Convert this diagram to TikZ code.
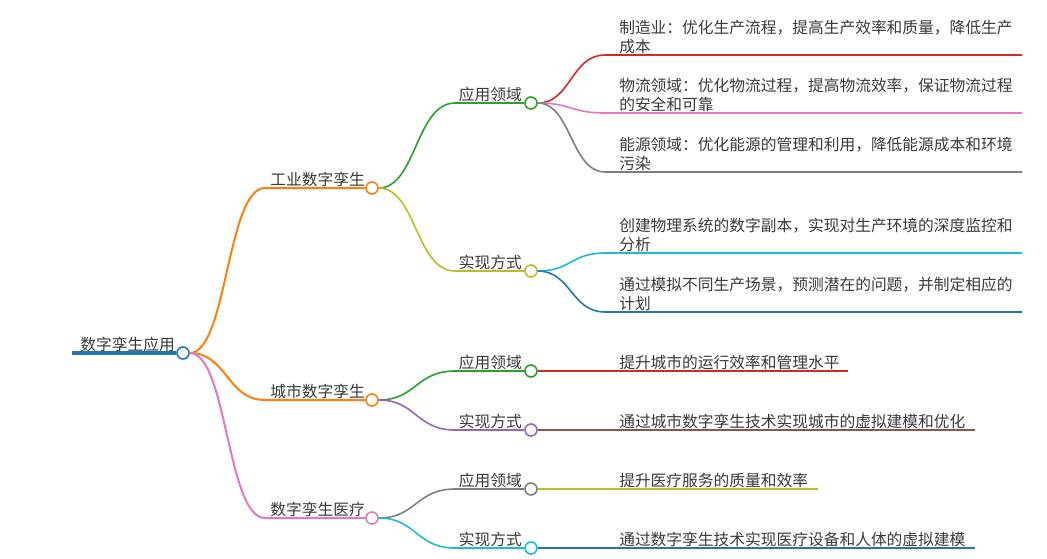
\documentclass[tikz,border=0pt]{standalone}
\usepackage{fontspec}
\setmainfont{Noto Sans CJK SC}
\definecolor{cblue}{HTML}{1F77B4}
\definecolor{corange}{HTML}{FF7F0E}
\definecolor{cgreen}{HTML}{2CA02C}
\definecolor{cred}{HTML}{D62728}
\definecolor{cpurple}{HTML}{9467BD}
\definecolor{cbrown}{HTML}{8C564B}
\definecolor{cpink}{HTML}{E377C2}
\definecolor{cgray}{HTML}{7F7F7F}
\definecolor{colive}{HTML}{BCBD22}
\definecolor{ccyan}{HTML}{17BECF}
\definecolor{txt}{HTML}{3A3A3A}
\tikzset{
  dot/.style={circle, draw=#1, fill=white, line width=1.2pt, inner sep=0pt, minimum size=9pt},
  link/.style={draw=#1, line width=1.2pt},
  lbl/.style={anchor=base east, inner sep=0pt, text=txt},
  leaf/.style={anchor=south west, inner sep=0pt, align=left, text=txt}
}
\begin{document}
\begin{tikzpicture}[x=0.75pt, y=-0.75pt, font=\fontsize{11.8pt}{14.3pt}\selectfont]
\useasboundingbox (0,0) rectangle (1047,558);
% root
\coordinate (r0) at (72,353);
\node[dot=cblue] (root) at (183,353) {};
\node[lbl] (troot) at (175,350) {数字孪生应用};
% level 1
\node[dot=corange] (ind) at (372,188) {};
\node[lbl] (tind) at (365,185) {工业数字孪生};
\node[dot=corange] (city) at (372,400) {};
\node[lbl] (tcity) at (365,397) {城市数字孪生};
\node[dot=cpink] (med) at (372,518) {};
\node[lbl] (tmed) at (365,515) {数字孪生医疗};
\coordinate (sind) at (265,188);
\coordinate (scity) at (265,400);
\coordinate (smed) at (265,518);
% level 2
\node[dot=cgreen] (ia) at (531,103) {};
\node[lbl] (tia) at (522,100) {应用领域};
\node[dot=colive] (ib) at (531,271) {};
\node[lbl] (tib) at (522,268) {实现方式};
\node[dot=cgreen] (ca) at (531,371) {};
\node[lbl] (tca) at (522,368) {应用领域};
\node[dot=cpurple] (cb) at (531,430) {};
\node[lbl] (tcb) at (522,427) {实现方式};
\node[dot=cgray] (ma) at (531,489) {};
\node[lbl] (tma) at (522,486) {应用领域};
\node[dot=ccyan] (mb) at (531,548) {};
\node[lbl] (tmb) at (522,545) {实现方式};
\coordinate (sia) at (455,103);
\coordinate (sib) at (455,271);
\coordinate (sca) at (455,371);
\coordinate (scb) at (455,430);
\coordinate (sma) at (455,489);
\coordinate (smb) at (455,548);
% leaves
\node[leaf] (l1) at (619,54) {制造业：优化生产流程，提高生产效率和质量，降低生产\\成本};
\node[leaf] (l2) at (619,112) {物流领域：优化物流过程，提高物流效率，保证物流过程\\的安全和可靠};
\node[leaf] (l3) at (619,171) {能源领域：优化能源的管理和利用，降低能源成本和环境\\污染};
\node[leaf] (l4) at (619,252) {创建物理系统的数字副本，实现对生产环境的深度监控和\\分析};
\node[leaf] (l5) at (619,311) {通过模拟不同生产场景，预测潜在的问题，并制定相应的\\计划};
\node[leaf] (l6) at (619,370) {提升城市的运行效率和管理水平};
\node[leaf] (l7) at (619,429) {通过城市数字孪生技术实现城市的虚拟建模和优化};
\node[leaf] (l8) at (619,488) {提升医疗服务的质量和效率};
\node[leaf] (l9) at (619,547) {通过数字孪生技术实现医疗设备和人体的虚拟建模};
\coordinate (s1) at (605,55);  \coordinate (e1) at (1022,55);
\coordinate (s2) at (605,113); \coordinate (e2) at (1022,113);
\coordinate (s3) at (605,172); \coordinate (e3) at (1022,172);
\coordinate (s4) at (605,253); \coordinate (e4) at (1022,253);
\coordinate (s5) at (605,312); \coordinate (e5) at (1022,312);
\coordinate (e6) at (848,371);
\coordinate (e7) at (975,430);
\coordinate (e8) at (818,489);
\coordinate (e9) at (975,548);
% connectors
\draw[link=cblue, line width=3pt] (r0) -- (root.west);
\draw[link=corange, line width=1.5pt] (root.east) .. controls (227,353) and (227,188) .. (sind) -- (ind.west);
\draw[link=corange, line width=1.5pt] (root.east) .. controls (227,353) and (227,400) .. (scity) -- (city.west);
\draw[link=cpink, line width=1.5pt] (root.east) .. controls (227,353) and (227,518) .. (smed) -- (med.west);
\draw[link=cgreen] (ind.east) .. controls (416,188) and (416,103) .. (sia) -- (ia.west);
\draw[link=colive] (ind.east) .. controls (416,188) and (416,271) .. (sib) -- (ib.west);
\draw[link=cgreen] (city.east) .. controls (416,400) and (416,371) .. (sca) -- (ca.west);
\draw[link=cpurple] (city.east) .. controls (416,400) and (416,430) .. (scb) -- (cb.west);
\draw[link=cgray] (med.east) .. controls (416,518) and (416,489) .. (sma) -- (ma.west);
\draw[link=ccyan] (med.east) .. controls (416,518) and (416,548) .. (smb) -- (mb.west);
\draw[link=cred] (ia.east) .. controls (571,103) and (571,55) .. (s1) -- (e1);
\draw[link=cpink] (ia.east) .. controls (571,103) and (571,113) .. (s2) -- (e2);
\draw[link=cgray] (ia.east) .. controls (571,103) and (571,172) .. (s3) -- (e3);
\draw[link=ccyan] (ib.east) .. controls (571,271) and (571,253) .. (s4) -- (e4);
\draw[link=cblue] (ib.east) .. controls (571,271) and (571,312) .. (s5) -- (e5);
\draw[link=cred] (ca.east) -- (e6);
\draw[link=cbrown] (cb.east) -- (e7);
\draw[link=colive] (ma.east) -- (e8);
\draw[link=cblue] (mb.east) -- (e9);
\end{tikzpicture}
\end{document}
